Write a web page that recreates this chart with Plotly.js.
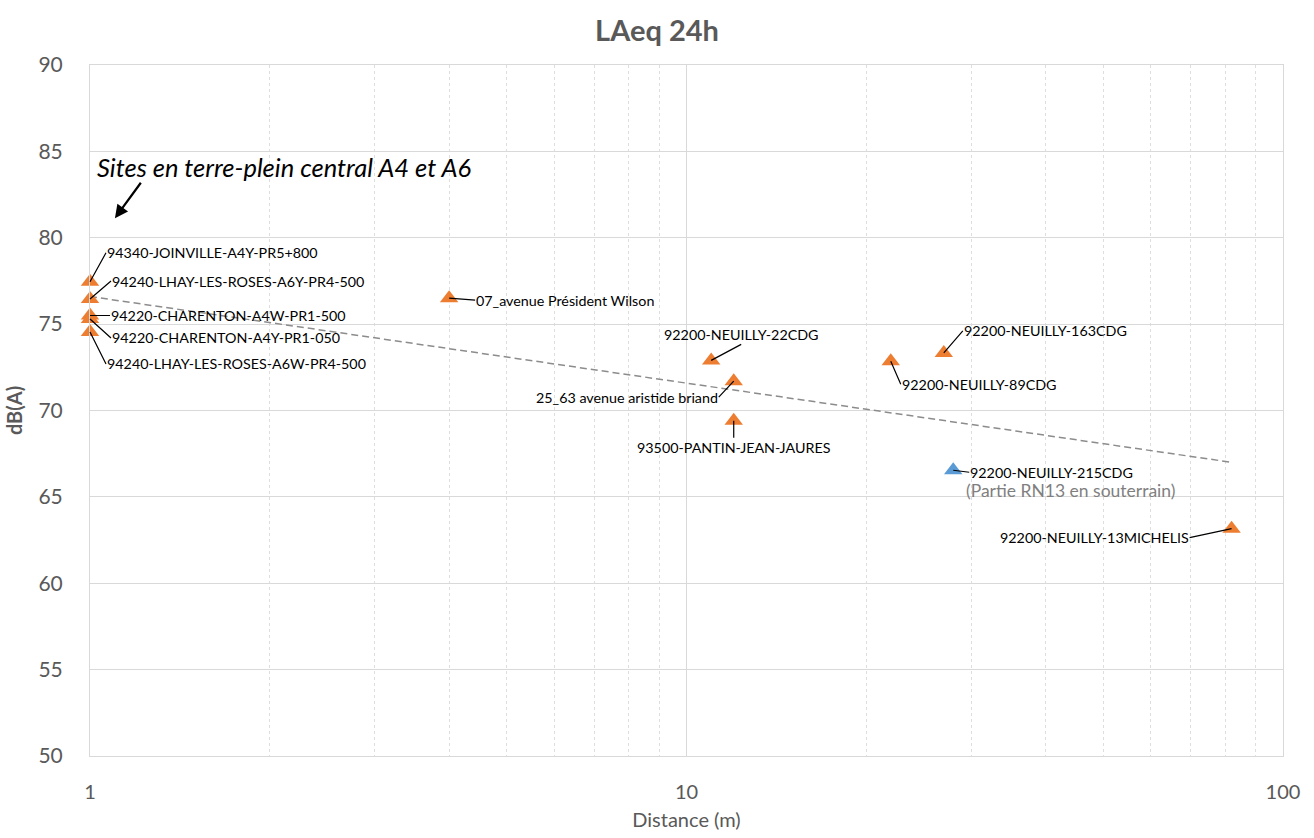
<!DOCTYPE html>
<html>
<head>
<meta charset="utf-8">
<script src="https://cdn.plot.ly/plotly-3.0.1.min.js"></script>
<style>html,body{margin:0;padding:0;background:#fff;}#chart{width:1314px;height:838px;}</style>
</head>
<body>
<div id="chart"></div>
<script>
// ---- Data ----
const siteNames = [
  "94340-JOINVILLE-A4Y-PR5+800",
  "94240-LHAY-LES-ROSES-A6Y-PR4-500",
  "94220-CHARENTON-A4W-PR1-500",
  "94220-CHARENTON-A4Y-PR1-050",
  "94240-LHAY-LES-ROSES-A6W-PR4-500",
  "07_avenue Président Wilson",
  "92200-NEUILLY-22CDG",
  "25_63 avenue aristide briand",
  "93500-PANTIN-JEAN-JAURES",
  "92200-NEUILLY-89CDG",
  "92200-NEUILLY-163CDG",
  "92200-NEUILLY-215CDG",
  "92200-NEUILLY-13MICHELIS"
];
const distance = [1, 1, 1, 1, 1, 4, 11, 12, 12, 22, 27, 28, 82];
const laeq = [77.45, 76.45, 75.5, 75.3, 74.55, 76.5, 72.9, 71.7, 69.4, 72.85, 73.33, 66.54, 63.16];
const underground = [false, false, false, false, false, false, false, false, false, false, false, true, false];
const trendDistance = [1, 82];
const trendLaeq = [76.6, 67.0];
const xTickVals = [1, 10, 100];
const xTickText = ["1", "10", "100"];
const yTickVals = [50, 55, 60, 65, 70, 75, 80, 85, 90];
const noteUnderground = "(Partie RN13 en souterrain)";
const noteSites = "Sites en terre-plein central A4 et A6";

// ---- Label placement (pixel offsets of leader tail from point) ----
const labelPos = [
  {ax:16, ay:-29, xa:'left', ya:'middle'},
  {ax:21, ay:-18, xa:'left', ya:'middle'},
  {ax:20, ay:0, xa:'left', ya:'middle'},
  {ax:21, ay:19, xa:'left', ya:'middle'},
  {ax:16, ay:32, xa:'left', ya:'middle'},
  {ax:26, ay:2, xa:'left', ya:'middle'},
  {ax:30, ay:-16, xa:'center', ya:'bottom'},
  {ax:-15, ay:16, xa:'right', ya:'middle'},
  {ax:0, ay:17, xa:'center', ya:'top'},
  {ax:10, ay:23, xa:'left', ya:'middle'},
  {ax:19, ay:-22, xa:'left', ya:'middle'},
  {ax:16, ay:2, xa:'left', ya:'middle'},
  {ax:-42, ay:9, xa:'right', ya:'middle'}
];

const FONT = 'Lato, "Open Sans", sans-serif';
const ORANGE = '#ED7D31', BLUE = '#5B9BD5';

const oX = [], oY = [], bX = [], bY = [];
distance.forEach((d, i) => {
  if (underground[i]) { bX.push(d); bY.push(laeq[i]); }
  else { oX.push(d); oY.push(laeq[i]); }
});

const traces = [
  {x: trendDistance, y: trendLaeq, mode: 'lines', type: 'scatter',
   line: {color: '#8C8C8C', width: 1.5, dash: '7px,4px'}, hoverinfo: 'skip', showlegend: false},
  {x: oX, y: oY, mode: 'markers', type: 'scatter', cliponaxis: false,
   marker: {symbol: 'triangle-up', size: 16, color: ORANGE}, showlegend: false},
  {x: bX, y: bY, mode: 'markers', type: 'scatter', cliponaxis: false,
   marker: {symbol: 'triangle-up', size: 16, color: BLUE}, showlegend: false}
];

const annotations = siteNames.map((name, i) => ({
  x: Math.log10(distance[i]), y: laeq[i], xref: 'x', yref: 'y',
  text: name, showarrow: true, arrowhead: 0, arrowwidth: 1.2, arrowcolor: '#000',
  ax: labelPos[i].ax, ay: labelPos[i].ay, xanchor: labelPos[i].xa, yanchor: labelPos[i].ya,
  standoff: 0, borderpad: 0,
  font: {family: FONT, size: 14.3, color: '#000'}
}));
const ug = underground.indexOf(true);
annotations.push({
  x: Math.log10(distance[ug]), y: laeq[ug], xref: 'x', yref: 'y',
  text: noteUnderground, showarrow: false, xanchor: 'left', yanchor: 'middle',
  xshift: 11, yshift: -20, font: {family: FONT, size: 17.5, color: '#7F7F7F'}
});
annotations.push({
  x: 0.004, y: 0.853, xref: 'paper', yref: 'paper', text: '<i>' + noteSites + '</i>',
  showarrow: false, xanchor: 'left', yanchor: 'middle',
  font: {family: FONT, size: 25.5, color: '#000'}
});
annotations.push({
  x: Math.log10(1.101), y: 81.13, xref: 'x', yref: 'y', text: '',
  showarrow: true, arrowhead: 2, arrowsize: 1.2, arrowwidth: 2.2, arrowcolor: '#000',
  ax: 27, ay: -37
});

const layout = {
  width: 1314, height: 838,
  margin: {l: 90, r: 31, t: 65, b: 82},
  paper_bgcolor: '#fff', plot_bgcolor: '#fff',
  font: {family: FONT, color: '#595959'},
  title: {text: '<b>LAeq 24h</b>', x: 0.5, xanchor: 'center', y: 0.963, yanchor: 'middle',
          font: {family: FONT, size: 29, color: '#595959'}},
  xaxis: {
    type: 'log', range: [0, 2], tickvals: xTickVals, ticktext: xTickText,
    showgrid: true, gridcolor: '#D9D9D9', gridwidth: 1,
    minor: {showgrid: true, gridcolor: '#DEDEDE', griddash: 'dot', dtick: 'D1', gridwidth: 1},
    showline: true, linecolor: '#D9D9D9', linewidth: 1, mirror: true,
    ticks: '', zeroline: false, ticklabelstandoff: 18,
    tickfont: {family: FONT, size: 20, color: '#595959'},
    title: {text: 'Distance (m)', standoff: 10, font: {family: FONT, size: 20, color: '#595959'}}
  },
  yaxis: {
    range: [50, 90], tickvals: yTickVals,
    showgrid: true, gridcolor: '#D9D9D9', gridwidth: 1,
    showline: true, linecolor: '#D9D9D9', linewidth: 1, mirror: true,
    ticks: '', zeroline: false, ticklabelstandoff: 22,
    tickfont: {family: FONT, size: 21, color: '#595959'},
    title: {text: '<b>dB(A)</b>', standoff: 10, font: {family: FONT, size: 20, color: '#595959'}}
  },
  annotations: annotations,
  showlegend: false
};

Plotly.newPlot('chart', traces, layout, {displayModeBar: false, staticPlot: true});
</script>
</body>
</html>
